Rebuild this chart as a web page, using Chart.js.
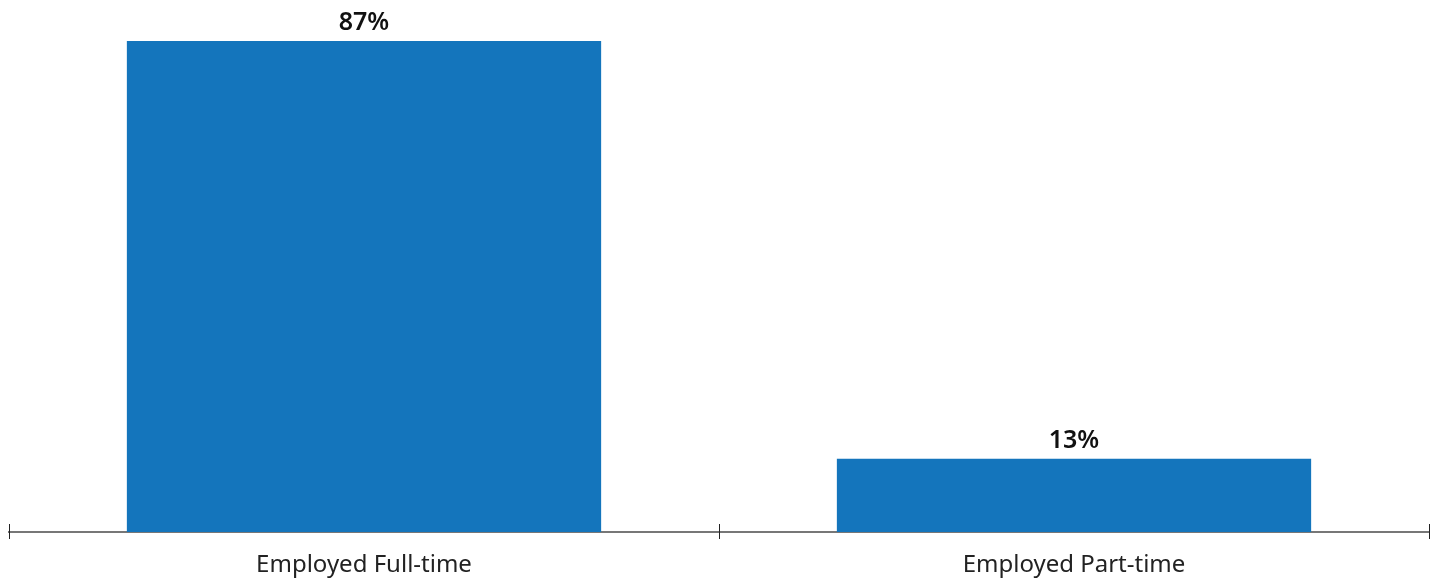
<!DOCTYPE html>
<html>
<head>
<meta charset="utf-8">
<script src="https://cdn.jsdelivr.net/npm/chart.js@4/dist/chart.umd.min.js"></script>
<style>
  html, body { margin: 0; padding: 0; background: #fff; }
  #wrap { width: 1449px; height: 581px; }
</style>
</head>
<body>
<div id="wrap"><canvas id="chart"></canvas></div>
<script>
const categories = ["Employed Full-time", "Employed Part-time"];
const shares = [87, 13];
const valueLabels = ["87%", "13%"];

// labels above each bar
const barLabels = {
    id: "barLabels",
    afterDatasetsDraw(chart) {
        const ctx = chart.ctx;
        const meta = chart.getDatasetMeta(0);
        ctx.save();
        ctx.font = "600 25px 'Noto Sans'";
        ctx.fillStyle = "#111";
        ctx.textAlign = "center";
        ctx.textBaseline = "alphabetic";
        meta.data.forEach((bar, i) => {
            ctx.fillText(valueLabels[i], bar.x, bar.y - 11);
        });
        ctx.restore();
    }
};

// short tick marks crossing the axis line, at the category edges
const edgeTicks = {
    id: "edgeTicks",
    afterDraw(chart) {
        const x = chart.scales.x;
        const area = chart.chartArea;
        const pos = [area.left];
        for (let i = 0; i < categories.length - 1; i++) {
            pos.push((x.getPixelForValue(i) + x.getPixelForValue(i + 1)) / 2);
        }
        pos.push(area.right);
        const ctx = chart.ctx;
        ctx.save();
        ctx.strokeStyle = "#222";
        ctx.lineWidth = 1;
        pos.forEach(p => {
            const px = Math.round(p) + 0.5;
            ctx.beginPath();
            ctx.moveTo(px, area.bottom - 8);
            ctx.lineTo(px, area.bottom + 7);
            ctx.stroke();
        });
        ctx.restore();
    }
};

new Chart(document.getElementById("chart"), {
    type: "bar",
    data: {
        labels: categories,
        datasets: [{
            data: shares,
            backgroundColor: "#1475bc",
            borderWidth: 0,
            barPercentage: 0.668,
            categoryPercentage: 1
        }]
    },
    options: {
        responsive: true,
        maintainAspectRatio: false,
        animation: false,
        layout: { padding: { top: 41, left: 9, right: 20, bottom: 0 } },
        plugins: {
            legend: { display: false },
            tooltip: { enabled: false }
        },
        scales: {
            y: {
                display: false,
                min: 0,
                max: 87
            },
            x: {
                grid: { display: false },
                border: { display: true, color: "#777", width: 2 },
                ticks: {
                    color: "#222",
                    font: { family: "Noto Sans", size: 24 },
                    padding: 11,
                    maxRotation: 0
                },
                afterFit(scale) { scale.height = 49; }
            }
        }
    },
    plugins: [barLabels, edgeTicks]
});
</script>
</body>
</html>
